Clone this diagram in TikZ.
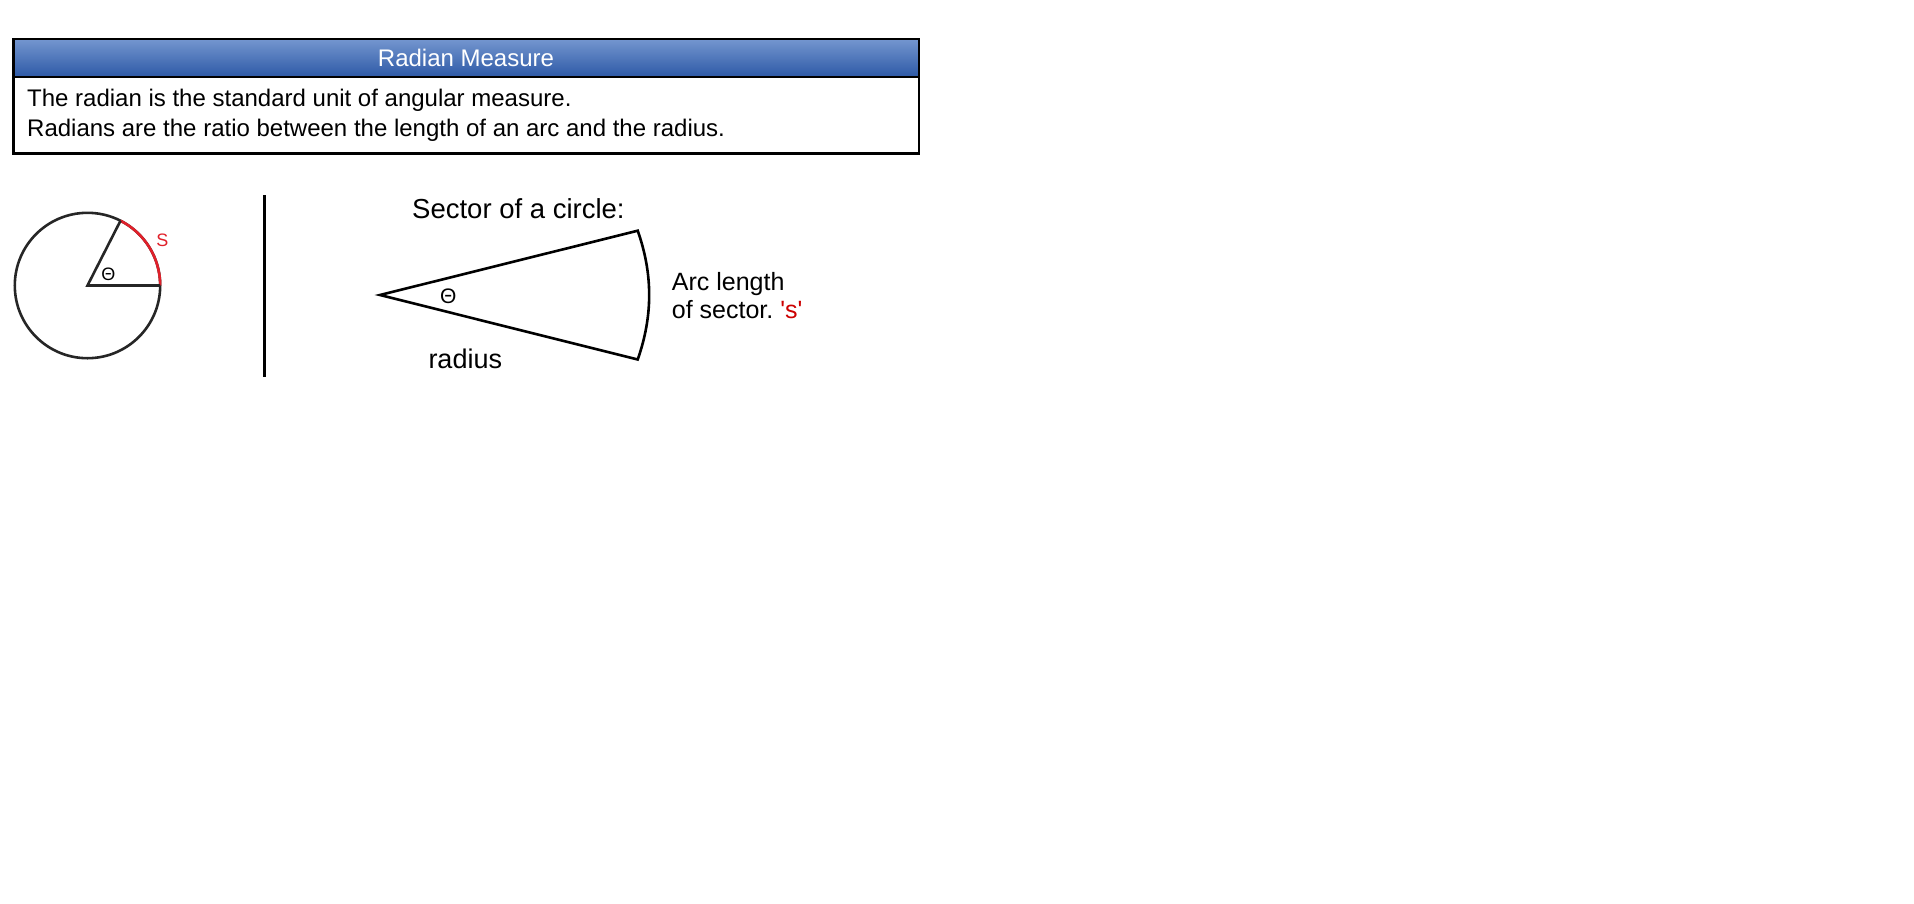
\documentclass[tikz,border=0pt]{standalone}
\usepackage{fontspec}
\setmainfont[Ligatures=TeXOff]{Liberation Sans}
\usetikzlibrary{calc}
\frenchspacing
\begin{document}
\begin{tikzpicture}[x=1pt,y=-1pt,
  line/.style={line width=2.6pt, draw=black!85},
  txt/.style={inner sep=0pt, anchor=base west},
  fs/.style={font=\fontsize{#1}{#1}\selectfont}]
\definecolor{hdtop}{HTML}{7496CF}
\definecolor{hdbot}{HTML}{2D59A6}
\definecolor{sred}{HTML}{E0202A}
\definecolor{dred}{HTML}{CC0000}
\useasboundingbox (0,0) rectangle (1914,903);
% header box
\shade[top color=hdtop, bottom color=hdbot] (13.3,39) rectangle (919,77);
\draw[line width=1.6pt] (13.3,77) -- (919,77);
\draw[line width=2.6pt] (13.3,39) rectangle (919,153.3);
\node[inner sep=0pt, anchor=base, text=white, fs=24] (title) at (466,66.5) {Radian Measure};
\node[txt, fs=24] (l1) at (27,106.7) {The radian is the standard unit of angular measure.};
\node[txt, fs=24] (l2) at (27,136) {Radians are the ratio between the length of an arc and the radius.};
% circle
\coordinate (c) at (87.5,285.5);
\draw[line] (c) circle (72.7);
\draw[line width=2.6pt, draw=sred] ($(c)+(0:72.7)$) arc[start angle=0, end angle=-63, radius=72.7];
\draw[line, line join=miter] ($(c)+(-63:72.7)$) -- (c) -- ($(c)+(0:72.7)$);
\node[inner sep=0pt, fs=18] (th1) at (108.3,274.3) {Θ};
\node[inner sep=0pt, fs=18, text=sred] (s1) at (162.3,240) {S};
% separator
\draw[line width=2.8pt, black] (264.3,195) -- (264.3,376.7);
% sector
\node[txt, fs=27.5] (sec) at (412,218.3) {Sector of a circle:};
\coordinate (apex) at (380,295);
\coordinate (tc) at (637.7,230.7);
\coordinate (bc) at (637.7,359.5);
\draw[line width=2.6pt, black, line join=miter, miter limit=20] (apex) -- (tc) .. controls (653,274) and (653,316) .. (bc) -- cycle;
\node[inner sep=0pt, fs=21] (th2) at (448.3,296.7) {Θ};
\node[txt, fs=25] (arc1) at (671.7,290) {Arc length};
\node[txt, fs=25] (arc2) at (671.7,318.3) {of sector. \textcolor{dred}{'s'}};
\node[txt, fs=27] (rad) at (428.3,368.3) {radius};
\end{tikzpicture}
\end{document}
